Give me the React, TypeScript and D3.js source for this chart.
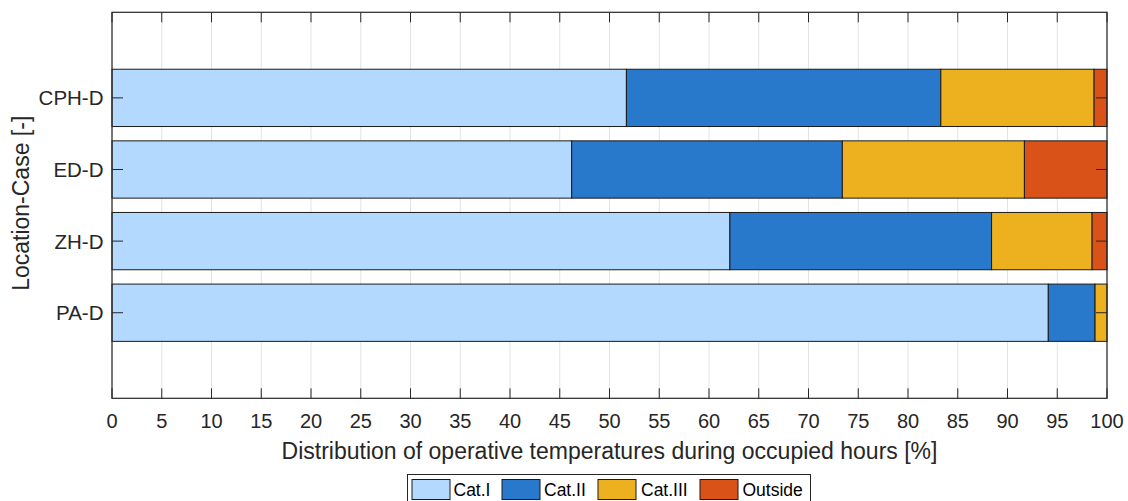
import React from "react";
import * as d3 from "d3";

const categories = ["CPH-D", "ED-D", "ZH-D", "PA-D"];
const seriesNames = ["Cat.I", "Cat.II", "Cat.III", "Outside"];
const catI = [51.7, 46.2, 62.1, 94.1];
const catII = [31.6, 27.2, 26.3, 4.7];
const catIII = [15.4, 18.3, 10.1, 1.2];
const outside = [1.3, 8.3, 1.5, 0];
const xTicks = d3.range(0, 101, 5);
const colors = ["#b3d9ff", "#2878cc", "#edb120", "#d95319"];

const W = 1128, H = 501;
const M = { left: 112, right: 1107, top: 12.3, bottom: 398.3 };
const FONT = "'Liberation Sans', Arial, sans-serif";
const AX = "#262626";

export default function App() {
  const x = d3.scaleLinear().domain([0, 100]).range([M.left, M.right]);
  const y = d3.scaleLinear().domain([1 - 1.195, 4 + 1.195]).range([M.top, M.bottom]);
  const bw = y(1.4) - y(0.6);
  const series = [catI, catII, catIII, outside];
  const rows = categories.map((c, i) => {
    let acc = 0;
    return series.map((s, k) => {
      const x0 = acc;
      acc += s[i];
      return { k, x0, x1: acc, v: s[i] };
    });
  });
  const legendItems = [
    { sx: 412, tx: 453.5 },
    { sx: 502, tx: 544 },
    { sx: 598, tx: 641 },
    { sx: 700, tx: 742.5 },
  ];
  return (
    <svg width={W} height={H} style={{ position: "absolute", left: 0, top: 0, background: "#fff" }} fontFamily={FONT}>
      <rect x={0} y={0} width={W} height={H} fill="#fff" />
      {xTicks.map((t) => (
        <line key={"g" + t} x1={x(t)} x2={x(t)} y1={M.top} y2={M.bottom} stroke="#e3e3e3" strokeWidth={1} />
      ))}
      {rows.map((r, i) =>
        r.filter((d) => d.v > 0).map((d) => (
          <rect key={i + "-" + d.k} x={x(d.x0)} width={x(d.x1) - x(d.x0)} y={y(i + 1) - bw / 2} height={bw}
            fill={colors[d.k]} stroke="#1a1a1a" strokeWidth={1} />
        ))
      )}
      <rect x={M.left} y={M.top} width={M.right - M.left} height={M.bottom - M.top} fill="none" stroke={AX} strokeWidth={1.2} />
      {xTicks.map((t) => (
        <g key={"t" + t}>
          <line x1={x(t)} x2={x(t)} y1={M.bottom} y2={M.bottom - 10} stroke={AX} />
          <line x1={x(t)} x2={x(t)} y1={M.top} y2={M.top + 10} stroke={AX} />
          <text x={x(t)} y={427.5} textAnchor="middle" fontSize={20} fill={AX}>{t}</text>
        </g>
      ))}
      {categories.map((c, i) => (
        <g key={c}>
          <line x1={M.left} x2={M.left + 11} y1={y(i + 1)} y2={y(i + 1)} stroke={AX} />
          <line x1={M.right} x2={M.right - 11} y1={y(i + 1)} y2={y(i + 1)} stroke={AX} />
          <text x={M.left - 8.5} y={y(i + 1) + 7.5} textAnchor="end" fontSize={20.5} fill={AX}>{c}</text>
        </g>
      ))}
      <text x={(M.left + M.right) / 2} y={458.5} textAnchor="middle" fontSize={23} fill={AX}>
        Distribution of operative temperatures during occupied hours [%]
      </text>
      <text transform={`translate(28.5,${(M.top + M.bottom) / 2 - 2}) rotate(-90)`} textAnchor="middle" fontSize={23} fill={AX}>
        Location-Case [-]
      </text>
      <rect x={407.5} y={474.5} width={403} height={28} fill="#fff" stroke="#262626" strokeWidth={1} />
      {seriesNames.map((n, k) => (
        <g key={n}>
          <rect x={legendItems[k].sx} y={479.5} width={38} height={20} fill={colors[k]} stroke="#1a1a1a" />
          <text x={legendItems[k].tx} y={496} fontSize={17.5} fill="#000">{n}</text>
        </g>
      ))}
    </svg>
  );
}
